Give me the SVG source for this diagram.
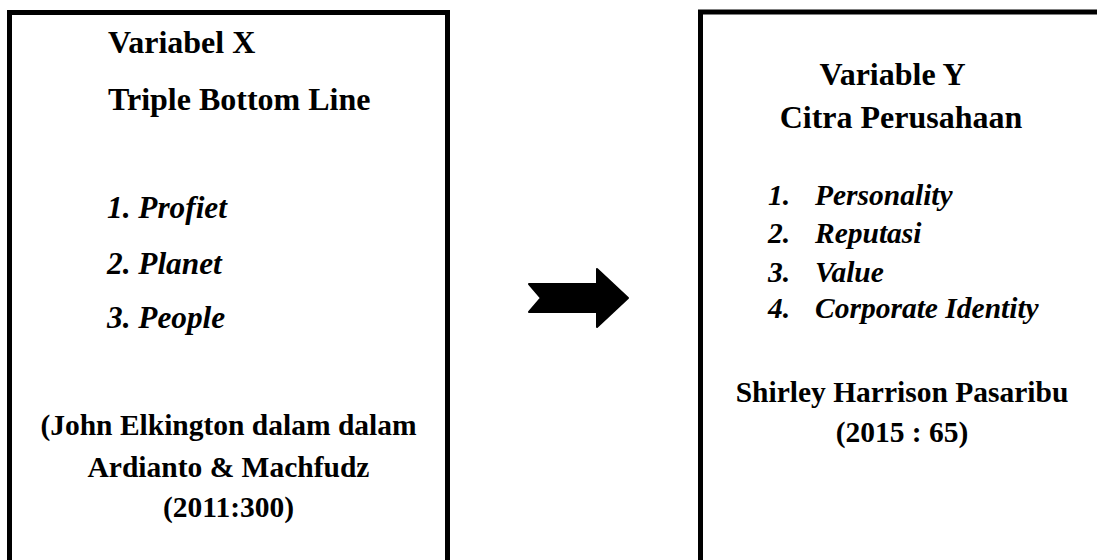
<svg xmlns="http://www.w3.org/2000/svg" width="1097" height="560" viewBox="0 0 1097 560">
<style>
.box{fill:#fff;stroke:#000;stroke-width:5}
.t{font-family:"Liberation Serif","Times New Roman",serif;font-weight:bold;fill:#000}
.i{font-style:italic}
.h{font-size:32px}
.l{font-size:31.3px}
.c{font-size:29.5px}
.m{text-anchor:middle}
</style>
<rect width="1097" height="560" fill="#fff"/>
<g id="node-x">
<rect class="box" x="9.5" y="12.5" width="438" height="560"/>
<text class="t h" x="108" y="53">Variabel X</text>
<text class="t h" x="108" y="110">Triple Bottom Line</text>
<text class="t l i" x="107" y="218">1. Profiet</text>
<text class="t l i" x="107" y="274">2. Planet</text>
<text class="t l i" x="107" y="328">3. People</text>
<text class="t c m" x="228.5" y="435">(John Elkington dalam dalam</text>
<text class="t c m" x="228.5" y="477">Ardianto &amp; Machfudz</text>
<text class="t c m" x="228.5" y="517">(2011:300)</text>
</g>
<g id="node-y">
<rect class="box" x="700.5" y="12" width="420" height="560"/>
<text class="t h m" x="892.5" y="85">Variable Y</text>
<text class="t h m" x="901" y="128">Citra Perusahaan</text>
<text class="t c i" x="768" y="205">1.</text>
<text class="t c i" x="815" y="205">Personality</text>
<text class="t c i" x="768" y="243">2.</text>
<text class="t c i" x="815" y="243">Reputasi</text>
<text class="t c i" x="768" y="282">3.</text>
<text class="t c i" x="815" y="282">Value</text>
<text class="t c i" x="768" y="318">4.</text>
<text class="t c i" x="815" y="318">Corporate Identity</text>
<text class="t c m" x="902" y="402">Shirley Harrison Pasaribu</text>
<text class="t c m" x="902" y="442">(2015 : 65)</text>
</g>
<g id="connectors">
<polygon points="529,284 541,298 529,312 597,312 597,327 628,298 597,269 597,284" fill="#000" stroke="#000" stroke-width="2" stroke-linejoin="round"/>
</g>
</svg>
